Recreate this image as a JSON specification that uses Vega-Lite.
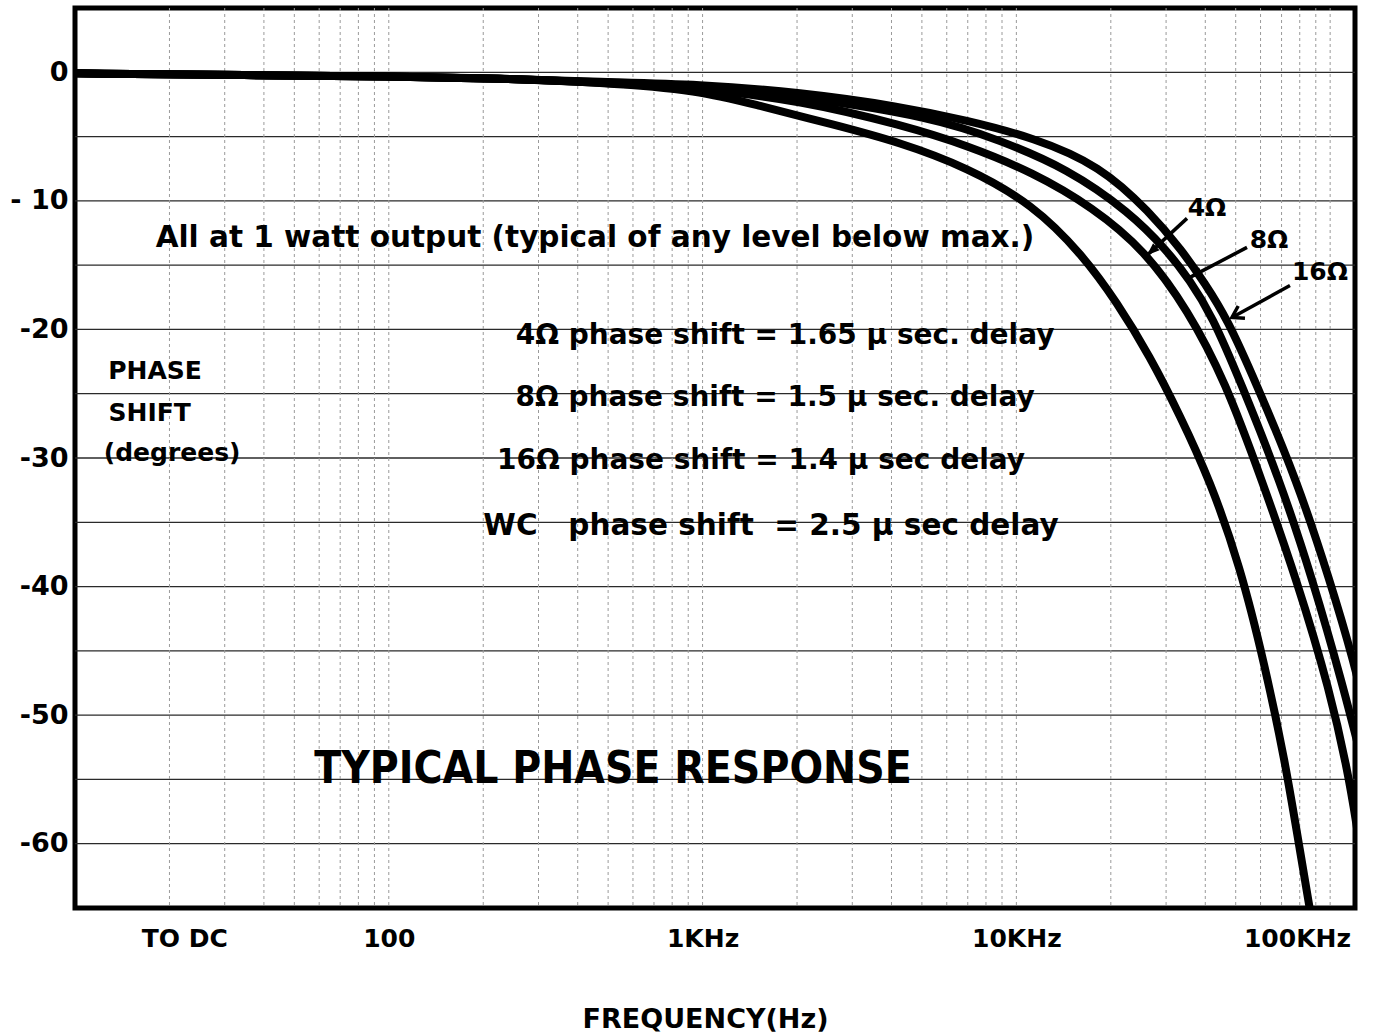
{
  "$schema": "https://vega.github.io/schema/vega-lite/v6.json",
  "width": 1280,
  "height": 900,
  "autosize": {"type": "none"},
  "padding": {"left": 75, "top": 8, "right": 25, "bottom": 126},
  "background": "white",
  "config": {"view": {"stroke": "black", "strokeWidth": 5}, "font": "DejaVu Sans"},
  "datasets": {
    "vgrid": [
      {"f": 20}, {"f": 30}, {"f": 40}, {"f": 50}, {"f": 60}, {"f": 70}, {"f": 80}, {"f": 90}, {"f": 100},
      {"f": 200}, {"f": 300}, {"f": 400}, {"f": 500}, {"f": 600}, {"f": 700}, {"f": 800}, {"f": 900}, {"f": 1000},
      {"f": 2000}, {"f": 3000}, {"f": 4000}, {"f": 5000}, {"f": 6000}, {"f": 7000}, {"f": 8000}, {"f": 9000}, {"f": 10000},
      {"f": 20000}, {"f": 30000}, {"f": 40000}, {"f": 50000}, {"f": 60000}, {"f": 70000}, {"f": 80000}, {"f": 90000}, {"f": 100000}
    ],
    "hgrid": [
      {"deg": 0}, {"deg": -5}, {"deg": -10}, {"deg": -15}, {"deg": -20}, {"deg": -25}, {"deg": -30},
      {"deg": -35}, {"deg": -40}, {"deg": -45}, {"deg": -50}, {"deg": -55}, {"deg": -60}
    ],
    "curves": [
      {"s": "WC", "f": 10, "deg": -0.08}, {"s": "WC", "f": 36.1, "deg": -0.23}, {"s": "WC", "f": 101, "deg": -0.31},
      {"s": "WC", "f": 226, "deg": -0.47}, {"s": "WC", "f": 471, "deg": -0.78}, {"s": "WC", "f": 981, "deg": -1.4},
      {"s": "WC", "f": 1491, "deg": -2.57}, {"s": "WC", "f": 2603, "deg": -4.05}, {"s": "WC", "f": 4257, "deg": -5.45},
      {"s": "WC", "f": 6961, "deg": -7.39}, {"s": "WC", "f": 11295, "deg": -10.27}, {"s": "WC", "f": 16302, "deg": -14.24},
      {"s": "WC", "f": 20922, "deg": -17.9}, {"s": "WC", "f": 26660, "deg": -22.1}, {"s": "WC", "f": 33220, "deg": -26.69},
      {"s": "WC", "f": 41400, "deg": -31.75}, {"s": "WC", "f": 51600, "deg": -38.37}, {"s": "WC", "f": 61970, "deg": -46.15},
      {"s": "WC", "f": 71780, "deg": -53.54}, {"s": "WC", "f": 80140, "deg": -60.54}, {"s": "WC", "f": 88150, "deg": -66.54},

      {"s": "4", "f": 10, "deg": -0.08}, {"s": "4", "f": 36.1, "deg": -0.23}, {"s": "4", "f": 101, "deg": -0.31},
      {"s": "4", "f": 226, "deg": -0.47}, {"s": "4", "f": 471, "deg": -0.78}, {"s": "4", "f": 981, "deg": -1.25},
      {"s": "4", "f": 2044, "deg": -2.18}, {"s": "4", "f": 4351, "deg": -4.12}, {"s": "4", "f": 6961, "deg": -5.68},
      {"s": "4", "f": 11295, "deg": -7.78}, {"s": "4", "f": 17542, "deg": -10.51}, {"s": "4", "f": 25700, "deg": -13.85},
      {"s": "4", "f": 35240, "deg": -18.52}, {"s": "4", "f": 46200, "deg": -23.97}, {"s": "4", "f": 60640, "deg": -31.75},
      {"s": "4", "f": 78390, "deg": -39.53}, {"s": "4", "f": 99860, "deg": -48.09}, {"s": "4", "f": 115660, "deg": -55.1},
      {"s": "4", "f": 126300, "deg": -61.32},

      {"s": "8", "f": 10, "deg": -0.08}, {"s": "8", "f": 36.1, "deg": -0.23}, {"s": "8", "f": 101, "deg": -0.31},
      {"s": "8", "f": 226, "deg": -0.47}, {"s": "8", "f": 471, "deg": -0.78}, {"s": "8", "f": 981, "deg": -1.09},
      {"s": "8", "f": 2044, "deg": -1.87}, {"s": "8", "f": 5424, "deg": -3.5}, {"s": "8", "f": 8866, "deg": -5.29},
      {"s": "8", "f": 14498, "deg": -7.47}, {"s": "8", "f": 23010, "deg": -10.89}, {"s": "8", "f": 30200, "deg": -13.85},
      {"s": "8", "f": 35740, "deg": -16.19}, {"s": "8", "f": 42000, "deg": -18.91}, {"s": "8", "f": 51600, "deg": -23.97},
      {"s": "8", "f": 69200, "deg": -31.75}, {"s": "8", "f": 88150, "deg": -39.53}, {"s": "8", "f": 109850, "deg": -47.7},
      {"s": "8", "f": 126300, "deg": -53.54},

      {"s": "16", "f": 10, "deg": -0.08}, {"s": "16", "f": 36.1, "deg": -0.23}, {"s": "16", "f": 101, "deg": -0.31},
      {"s": "16", "f": 226, "deg": -0.47}, {"s": "16", "f": 471, "deg": -0.75}, {"s": "16", "f": 981, "deg": -0.93},
      {"s": "16", "f": 2044, "deg": -1.56}, {"s": "16", "f": 4257, "deg": -2.65}, {"s": "16", "f": 6961, "deg": -3.74},
      {"s": "16", "f": 11295, "deg": -5.06}, {"s": "16", "f": 18466, "deg": -7.24}, {"s": "16", "f": 26660, "deg": -10.89},
      {"s": "16", "f": 33700, "deg": -13.85}, {"s": "16", "f": 39900, "deg": -16.42}, {"s": "16", "f": 46900, "deg": -19.14},
      {"s": "16", "f": 57600, "deg": -23.97}, {"s": "16", "f": 78390, "deg": -31.75}, {"s": "16", "f": 99860, "deg": -39.53},
      {"s": "16", "f": 120000, "deg": -46.15}, {"s": "16", "f": 129100, "deg": -49.65}
    ],
    "notes": [
      {"f": 454, "deg": -12.9, "size": 29.5, "label": "All at 1 watt output (typical of any level below max.)"},
      {"f": 1832, "deg": -20.5, "size": 28, "label": "4Ω phase shift = 1.65 μ sec. delay"},
      {"f": 1702, "deg": -25.3, "size": 28, "label": "8Ω phase shift = 1.5 μ sec. delay"},
      {"f": 1535, "deg": -30.2, "size": 28, "label": "16Ω phase shift = 1.4 μ sec delay"},
      {"f": 1652, "deg": -35.3, "size": 29.5, "label": "WC\u00a0\u00a0 phase shift\u00a0 = 2.5 μ sec delay"}
    ],
    "ylab": [
      {"f": 18.0, "deg": -23.2, "label": "PHASE"},
      {"f": 17.3, "deg": -26.5, "label": "SHIFT"},
      {"f": 20.4, "deg": -29.6, "label": "(degrees)"},
      {"f": 40500, "deg": -10.58, "label": "4Ω"},
      {"f": 63830, "deg": -13.07, "label": "8Ω"},
      {"f": 92800, "deg": -15.56, "label": "16Ω"}
    ],
    "title": [
      {"f": 518, "deg": -54.3, "label": "TYPICAL PHASE RESPONSE"}
    ],
    "arrows": [
      {"k": "4", "f": 34980, "deg": -11.36, "f2": 26080, "deg2": -14.24, "ang": 227},
      {"k": "8", "f": 54330, "deg": -13.62, "f2": 35740, "deg2": -15.95, "ang": 242},
      {"k": "16", "f": 74470, "deg": -16.58, "f2": 48650, "deg2": -19.07, "ang": 241}
    ]
  },
  "layer": [
    {
      "data": {"name": "hgrid"},
      "mark": {"type": "rule", "stroke": "#2a2a2a", "strokeWidth": 1.3},
      "encoding": {
        "y": {
          "field": "deg", "type": "quantitative",
          "scale": {"domain": [-65, 5], "nice": false, "zero": false},
          "axis": {
            "values": [0, -10, -20, -30, -40, -50, -60],
            "labelExpr": "datum.value == 0 ? '0' : datum.value == -10 ? '- 10' : '-' + abs(datum.value)",
            "grid": false, "ticks": false, "domain": false,
            "labelFont": "DejaVu Sans", "labelFontWeight": "bold", "labelFontSize": 27, "labelColor": "black",
            "labelPadding": 7, "title": null
          }
        }
      }
    },
    {
      "data": {"name": "vgrid"},
      "mark": {"type": "rule", "stroke": "#9a9a9a", "strokeWidth": 1, "strokeDash": [3, 3]},
      "encoding": {
        "x": {
          "field": "f", "type": "quantitative",
          "scale": {"type": "log", "domain": [10, 120000], "nice": false},
          "axis": {
            "values": [22.3, 100, 1000, 10000, 78400],
            "labelExpr": "datum.value < 50 ? 'TO DC' : datum.value < 500 ? '100' : datum.value < 5000 ? '1KHz' : datum.value < 50000 ? '10KHz' : '100KHz'",
            "grid": false, "ticks": false, "domain": false,
            "labelFont": "DejaVu Sans", "labelFontWeight": "bold", "labelFontSize": 25, "labelColor": "black",
            "labelPadding": 18,
            "title": "FREQUENCY(Hz)", "titleFont": "DejaVu Sans", "titleFontWeight": "bold", "titleFontSize": 27,
            "titleColor": "black", "titleBaseline": "alphabetic", "titleY": 119, "titleX": 630
          }
        }
      }
    },
    {
      "data": {"name": "curves"},
      "mark": {"type": "line", "stroke": "black", "strokeWidth": 8, "interpolate": "basis", "clip": true, "strokeCap": "round"},
      "encoding": {
        "x": {"field": "f", "type": "quantitative"},
        "y": {"field": "deg", "type": "quantitative"},
        "detail": {"field": "s"}
      }
    },
    {
      "data": {"name": "arrows"},
      "mark": {"type": "rule", "stroke": "black", "strokeWidth": 3.5},
      "encoding": {
        "x": {"field": "f", "type": "quantitative"},
        "y": {"field": "deg", "type": "quantitative"},
        "x2": {"field": "f2"},
        "y2": {"field": "deg2"}
      }
    },
    {
      "data": {"name": "arrows"},
      "transform": [{"filter": "datum.k != '16'"}],
      "mark": {"type": "point", "shape": "M0,0L-0.45,1.2L0.45,1.2Z", "filled": true, "color": "black", "size": 450, "opacity": 1},
      "encoding": {
        "x": {"field": "f2", "type": "quantitative"},
        "y": {"field": "deg2", "type": "quantitative"},
        "angle": {"field": "ang", "type": "quantitative", "scale": null}
      }
    },
    {
      "data": {"name": "arrows"},
      "transform": [{"filter": "datum.k == '16'"}],
      "mark": {"type": "point", "shape": "M-0.7,1.1L0,0L0.7,1.1", "filled": false, "stroke": "black", "strokeWidth": 3.5, "size": 400, "opacity": 1},
      "encoding": {
        "x": {"field": "f2", "type": "quantitative"},
        "y": {"field": "deg2", "type": "quantitative"},
        "angle": {"field": "ang", "type": "quantitative", "scale": null}
      }
    },
    {
      "data": {"name": "notes"},
      "mark": {"type": "text", "font": "DejaVu Sans", "fontWeight": "bold", "color": "black", "align": "center", "baseline": "middle"},
      "encoding": {
        "x": {"field": "f", "type": "quantitative"},
        "y": {"field": "deg", "type": "quantitative"},
        "text": {"field": "label"},
        "size": {"field": "size", "type": "quantitative", "scale": null}
      }
    },
    {
      "data": {"name": "ylab"},
      "mark": {"type": "text", "font": "DejaVu Sans", "fontWeight": "bold", "fontSize": 25, "color": "black", "align": "center", "baseline": "middle"},
      "encoding": {
        "x": {"field": "f", "type": "quantitative"},
        "y": {"field": "deg", "type": "quantitative"},
        "text": {"field": "label"}
      }
    },
    {
      "data": {"name": "title"},
      "mark": {"type": "text", "font": "'Liberation Sans Narrow', 'DejaVu Sans Condensed', 'Arial Narrow', sans-serif", "fontWeight": "bold", "fontSize": 44, "color": "black", "align": "center", "baseline": "middle"},
      "encoding": {
        "x": {"field": "f", "type": "quantitative"},
        "y": {"field": "deg", "type": "quantitative"},
        "text": {"field": "label"}
      }
    }
  ]
}
